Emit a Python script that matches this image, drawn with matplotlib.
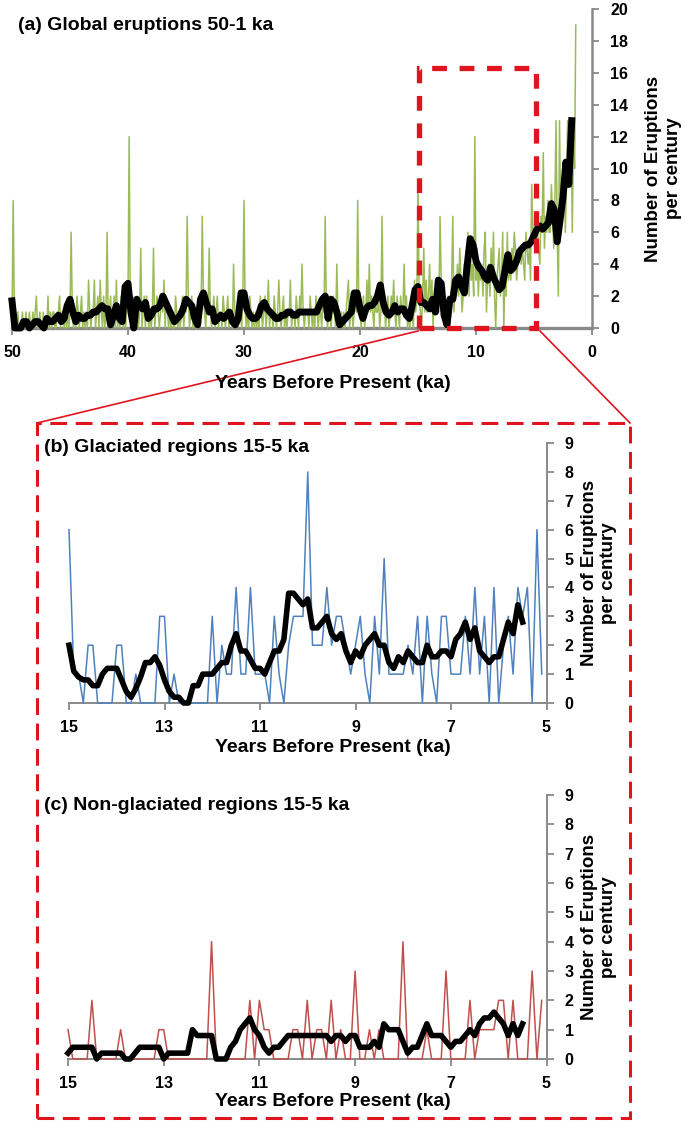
import numpy as np
import matplotlib
matplotlib.use("Agg")
import matplotlib.pyplot as plt
from matplotlib.patches import Rectangle
from matplotlib.lines import Line2D

W, H = 685, 1121

# (a) global eruptions per century, 50.0 ka -> 1.4 ka (0.1 ka steps, one row per ka)
global_counts = [
    0, 8, 1, 0, 0, 1, 0, 0, 0, 1,   # 50
    0, 0, 1, 0, 0, 1, 0, 0, 1, 0,   # 49
    1, 2, 0, 0, 1, 0, 0, 1, 0, 0,   # 48
    0, 2, 0, 1, 0, 1, 1, 0, 0, 1,   # 47
    1, 2, 0, 1, 1, 0, 1, 0, 1, 0,   # 46
    1, 6, 1, 0, 1, 0, 2, 1, 0, 1,   # 45
    2, 0, 1, 0, 1, 0, 3, 1, 0, 1,   # 44
    1, 3, 0, 1, 2, 0, 3, 1, 0, 2,   # 43
    0, 1, 6, 0, 1, 2, 0, 1, 2, 0,   # 42
    3, 0, 1, 0, 2, 1, 0, 1, 0, 2,   # 41
    2, 12, 1, 0, 2, 1, 0, 1, 2, 0,  # 40
    1, 5, 0, 1, 2, 0, 2, 1, 0, 1,   # 39
    0, 1, 5, 0, 1, 2, 1, 0, 1, 2,   # 38
    1, 3, 0, 2, 1, 0, 1, 0, 1, 0,   # 37
    0, 2, 1, 0, 1, 0, 1, 2, 0, 1,   # 36
    1, 7, 2, 0, 1, 2, 0, 1, 0, 0,   # 35
    0, 1, 2, 1, 7, 2, 1, 0, 2, 1,   # 34
    5, 1, 0, 1, 2, 0, 1, 2, 0, 1,   # 33
    1, 0, 2, 1, 0, 1, 2, 0, 1, 1,   # 32
    0, 4, 1, 0, 0, 1, 2, 1, 0, 2,   # 31
    8, 1, 0, 1, 0, 2, 1, 0, 1, 0,   # 30
    1, 0, 1, 0, 2, 1, 0, 1, 2, 0,   # 29
    1, 3, 0, 1, 1, 0, 2, 1, 0, 1,   # 28
    3, 1, 0, 1, 2, 0, 1, 0, 1, 1,   # 27
    3, 0, 1, 1, 0, 2, 1, 0, 2, 1,   # 26
    4, 1, 0, 1, 1, 1, 0, 2, 1, 0,   # 25
    1, 0, 2, 1, 0, 1, 1, 0, 2, 1,   # 24
    7, 1, 0, 1, 2, 0, 1, 2, 1, 0,   # 23
    4, 1, 0, 0, 1, 0, 1, 0, 1, 2,   # 22
    3, 0, 1, 1, 0, 1, 2, 1, 8, 1,   # 21
    1, 0, 1, 2, 0, 1, 3, 1, 4, 1,   # 20
    2, 1, 0, 2, 1, 1, 2, 0, 1, 7,   # 19
    1, 2, 0, 1, 2, 0, 1, 2, 1, 3,   # 18
    1, 0, 2, 1, 0, 2, 1, 1, 4, 1,   # 17
    2, 0, 1, 0, 2, 1, 0, 3, 1, 2,   # 16
    9, 2, 1, 0, 2, 5, 1, 3, 1, 2,   # 15
    4, 1, 3, 0, 2, 1, 3, 2, 1, 7,   # 14
    3, 2, 1, 0, 0, 0, 2, 0, 1, 3,   # 13
    7, 1, 3, 2, 4, 2, 5, 3, 1, 2,   # 12
    4, 2, 3, 6, 2, 5, 3, 4, 2, 12,  # 11
    3, 5, 2, 4, 3, 4, 2, 5, 6, 1,   # 10
    3, 4, 2, 5, 3, 6, 2, 0, 3, 4,   # 9
    5, 2, 3, 6, 0, 4, 2, 6, 3, 4,   # 8
    3, 5, 4, 6, 5, 3, 4, 5, 5, 4,   # 7
    5, 4, 3, 6, 5, 4, 5, 3, 9, 6,   # 6
    6, 5, 7, 6, 5, 4, 7, 6, 11, 5,  # 5
    7, 6, 8, 6, 6, 9, 7, 5, 8, 13,  # 4
    6, 2, 13, 7, 9, 8, 10, 6, 9, 13,  # 3
    10, 9, 13, 6, 12, 10, 19,       # 2
]

# (a) running mean, 50 ka -> 1.75 ka in 0.25 ka steps
global_mean = [
    1.7, 0.0, 0.0, 0.0,  0.4, 0.4, 0.0, 0.2,  0.4, 0.4, 0.2, 0.0,
    0.6, 0.4, 0.4, 0.6,  0.8, 0.4, 0.6, 1.4,  1.8, 1.0, 0.4, 0.8,
    0.6, 0.6, 0.8, 0.8,  1.0, 1.0, 1.2, 1.4,  1.2, 1.2, 0.2, 0.8,
    1.4, 0.6, 0.4, 2.6,  2.8, 1.0, 0.0, 1.8,  1.4, 1.2, 1.6, 0.6,
    0.8, 1.2, 1.2, 1.4,  2.0, 1.6, 1.2, 0.8,  0.4, 0.6, 0.8, 1.2,
    1.8, 1.6, 1.4, 0.6,  0.2, 1.8, 2.2, 1.6,  1.0, 1.2, 0.4, 0.6,
    0.8, 0.6, 0.8, 1.0,  0.4, 0.2, 0.6, 2.2,  2.2, 1.2, 0.8, 0.6,
    0.6, 0.8, 1.4, 1.6,  1.2, 1.0, 0.8, 0.6,  0.6, 0.8, 0.8, 1.0,
    1.0, 0.8, 0.8, 1.0,  1.0, 1.0, 1.0, 1.0,  1.0, 1.0, 1.4, 1.8,
    2.0, 0.6, 1.8, 1.6,  1.0, 0.2, 0.4, 0.6,  0.8, 1.0, 2.2, 2.2,
    1.2, 0.6, 1.2, 1.4,  1.4, 1.6, 2.0, 2.7,  1.6, 1.0, 0.8, 1.0,
    1.4, 1.0, 1.2, 1.2,  0.8, 0.6, 1.4, 2.4,  2.6, 1.6, 1.6, 1.4,
    1.2, 1.8, 1.0, 3.0,  2.8, 0.8, 0.2, 1.8,  1.8, 3.0, 3.2, 2.6,
    2.2, 4.0, 5.6, 5.2,  4.2, 3.8, 3.6, 3.2,  3.0, 3.8, 3.2, 2.8,
    2.4, 2.6, 3.6, 4.6,  3.6, 3.8, 4.2, 4.8,  5.0, 5.2, 5.2, 5.4,
    5.8, 6.2, 6.4, 6.2,  6.4, 6.6, 7.8, 7.4,  5.4, 6.8, 8.2, 10.4,
    9.0, 13.0,
]

# (b) glaciated regions, 15.0 ka -> 5.1 ka (0.1 ka steps)
glac_counts = [
    6, 1, 1, 0, 2, 2, 0, 0, 0, 0,   # 15
    2, 2, 0, 0, 1, 0, 0, 0, 0, 3,   # 14
    3, 0, 1, 0, 0, 0, 0, 0, 0, 0,   # 13
    3, 0, 2, 1, 1, 4, 1, 1, 4, 1,   # 12
    1, 1, 0, 3, 1, 0, 2, 3, 3, 3,   # 11
    8, 2, 2, 2, 4, 2, 3, 3, 2, 1,   # 10
    2, 3, 1, 0, 3, 1, 5, 1, 1, 1,   # 9
    1, 2, 1, 3, 0, 3, 1, 0, 3, 3,   # 8
    1, 1, 1, 3, 1, 4, 1, 3, 0, 4,   # 7
    0, 2, 3, 1, 4, 3, 4, 0, 6, 1,   # 6
]
glac_mean = [
    2.0, 1.1, 0.9, 0.8, 0.8, 0.6, 0.6, 1.0, 1.2, 1.2,
    1.2, 0.8, 0.4, 0.2, 0.5, 0.9, 1.4, 1.4, 1.6, 1.3,
    0.8, 0.4, 0.2, 0.2, 0.0, 0.0, 0.6, 0.6, 1.0, 1.0,
    1.0, 1.2, 1.4, 1.4, 2.0, 2.4, 1.8, 1.8, 1.5, 1.2,
    1.2, 1.0, 1.4, 1.8, 1.8, 2.2, 3.8, 3.8, 3.6, 3.4,
    3.6, 2.6, 2.6, 2.8, 3.0, 2.4, 2.2, 2.4, 1.8, 1.4,
    1.8, 1.6, 2.0, 2.2, 2.4, 2.0, 2.0, 1.4, 1.2, 1.6,
    1.4, 1.8, 1.6, 1.4, 1.4, 2.0, 1.6, 1.6, 1.8, 1.8,
    1.6, 2.2, 2.4, 2.8, 2.2, 2.6, 1.8, 1.6, 1.4, 1.6,
    1.6, 2.2, 2.8, 2.4, 3.4, 2.8,
]

# (c) non-glaciated regions, 15.0 ka -> 5.1 ka (0.1 ka steps)
nonglac_counts = [
    1, 0, 0, 0, 0, 2, 0, 0, 0, 0,   # 15
    0, 1, 0, 0, 0, 0, 0, 0, 0, 1,   # 14
    1, 0, 0, 0, 0, 0, 0, 0, 0, 0,   # 13
    4, 0, 0, 0, 0, 0, 0, 0, 2, 0,   # 12
    2, 1, 1, 0, 0, 0, 0, 1, 1, 0,   # 11
    2, 0, 1, 1, 0, 2, 0, 1, 0, 0,   # 10
    3, 0, 0, 1, 0, 1, 0, 0, 0, 0,   # 9
    4, 0, 0, 0, 0, 1, 0, 0, 0, 3,   # 8
    0, 0, 0, 0, 2, 0, 1, 1, 1, 1,   # 7
    2, 2, 0, 2, 0, 0, 0, 3, 0, 2,   # 6
]
nonglac_mean = [
    0.2, 0.4, 0.4, 0.4, 0.4, 0.4, 0.0, 0.2, 0.2, 0.2,
    0.2, 0.2, 0.0, 0.0, 0.2, 0.4, 0.4, 0.4, 0.4, 0.4,
    0.0, 0.2, 0.2, 0.2, 0.2, 0.2, 1.0, 0.8, 0.8, 0.8,
    0.8, 0.0, 0.0, 0.0, 0.4, 0.6, 1.0, 1.2, 1.4, 1.0,
    0.8, 0.4, 0.2, 0.4, 0.4, 0.6, 0.8, 0.8, 0.8, 0.8,
    0.8, 0.8, 0.8, 0.8, 0.8, 0.6, 0.8, 0.8, 0.6, 0.8,
    0.8, 0.4, 0.4, 0.4, 0.6, 0.4, 1.2, 1.0, 1.0, 1.0,
    0.6, 0.2, 0.4, 0.4, 0.8, 1.2, 0.8, 0.8, 0.8, 0.6,
    0.4, 0.6, 0.6, 0.8, 1.0, 0.8, 1.2, 1.4, 1.4, 1.6,
    1.4, 1.2, 0.8, 1.2, 0.8, 1.2,
]

age_a = 50 - 0.1 * np.arange(len(global_counts))
age_a_mean = 50 - 0.25 * np.arange(len(global_mean))
age_bc = 15 - 0.1 * np.arange(len(glac_counts))
age_bc_mean = 15 - 0.1 * np.arange(len(glac_mean))

GRAY = "#898989"
RED = "#e0141e"
SANS = ["Liberation Sans", "DejaVu Sans"]


def rect(left, top, right, bottom):
    return [left / W, 1 - bottom / H, (right - left) / W, (bottom - top) / H]


def style(ax, xticks, yticks, xw, yw):
    for s in ["top", "left"]:
        ax.spines[s].set_visible(False)
    ax.spines["bottom"].set_color(GRAY)
    ax.spines["bottom"].set_linewidth(xw)
    ax.spines["right"].set_color(GRAY)
    ax.spines["right"].set_linewidth(yw)
    ax.yaxis.tick_right()
    ax.set_xticks(xticks)
    ax.set_yticks(yticks)
    ax.tick_params(axis="both", colors=GRAY, labelcolor="black",
                   direction="out", length=5, width=1.3)
    ax.tick_params(axis="x", pad=7)
    ax.tick_params(axis="y", pad=8)
    for lab in ax.get_xticklabels() + ax.get_yticklabels():
        lab.set_fontfamily(SANS)
        lab.set_fontweight("bold")
        lab.set_fontsize(11.5)
    ax.patch.set_alpha(0)


def ylabel(ax, xfrac):
    ax.text(xfrac, 0.5, "Number of Eruptions\nper century", transform=ax.transAxes,
            rotation=90, ha="center", va="center", fontsize=13.5,
            fontweight="bold", family=SANS, linespacing=1.2)


def ftext(x, y, s, **kw):
    fig.text(x / W, 1 - y / H, s, family=SANS, fontweight="bold",
             fontsize=14, va="center", **kw)


fig = plt.figure(figsize=(W / 100, H / 100), dpi=100)

# ---- panel (a)
ax_a = fig.add_axes(rect(12, 9, 592, 328))
ax_a.plot(age_a, global_counts, color="#9bbb59", lw=1.1, zorder=3, clip_on=False)
ax_a.plot(age_a_mean, global_mean, color="black", lw=5.0, zorder=4,
          solid_joinstyle="round", clip_on=False)
ax_a.set_xlim(50, 0)
ax_a.set_ylim(0, 20)
style(ax_a, range(50, -1, -10), range(0, 21, 2), 2.4, 1.8)
ylabel(ax_a, 1.123)
box = Rectangle((14.9, 0), -10.1, 16.3, fill=False, ec=RED, lw=3.8,
                ls=(0, (2.8, 2.4)), zorder=5, clip_on=False)
ax_a.add_patch(box)
ftext(18, 26, "(a) Global eruptions 50-1 ka", ha="left")
ftext(333, 383, "Years Before Present (ka)", ha="center")

# connectors and the big dashed frame
fig.add_artist(Line2D([418 / W, 37 / W], [1 - 331 / H, 1 - 423 / H], color=RED, lw=1.2))
fig.add_artist(Line2D([540 / W, 630 / W], [1 - 331 / H, 1 - 423 / H], color=RED, lw=1.2))
fig.add_artist(Rectangle((37 / W, 1 - 1118 / H), (630 - 37) / W, (1118 - 423) / H,
                         transform=fig.transFigure, fill=False, ec=RED, lw=2.2,
                         ls=(0, (5.5, 2.8))))

# ---- panel (b)
ax_b = fig.add_axes(rect(69, 443, 546.5, 703))
ax_b.plot(age_bc, glac_counts, color="#4f81bd", lw=1.1, zorder=3, clip_on=False)
ax_b.plot(age_bc_mean, glac_mean, color="black", lw=4.0, zorder=4,
          solid_joinstyle="round", clip_on=False)
ax_b.set_xlim(15, 5)
ax_b.set_ylim(0, 9)
style(ax_b, range(15, 4, -2), range(0, 10), 1.4, 1.4)
ylabel(ax_b, 1.11)
ftext(44, 448, "(b) Glaciated regions 15-5 ka", ha="left")
ftext(333, 747, "Years Before Present (ka)", ha="center")

# ---- panel (c)
ax_c = fig.add_axes(rect(68, 795, 546.5, 1059))
ax_c.plot(age_bc, nonglac_counts, color="#c0504d", lw=1.1, zorder=3, clip_on=False)
ax_c.plot(age_bc_mean, nonglac_mean, color="black", lw=4.0, zorder=4,
          solid_joinstyle="round", clip_on=False)
ax_c.set_xlim(15, 5)
ax_c.set_ylim(0, 9)
style(ax_c, range(15, 4, -2), range(0, 10), 1.4, 1.4)
ylabel(ax_c, 1.11)
ftext(44, 805, "(c) Non-glaciated regions 15-5 ka", ha="left")
ftext(333, 1101, "Years Before Present (ka)", ha="center")

fig.savefig("out.png", dpi=100)
